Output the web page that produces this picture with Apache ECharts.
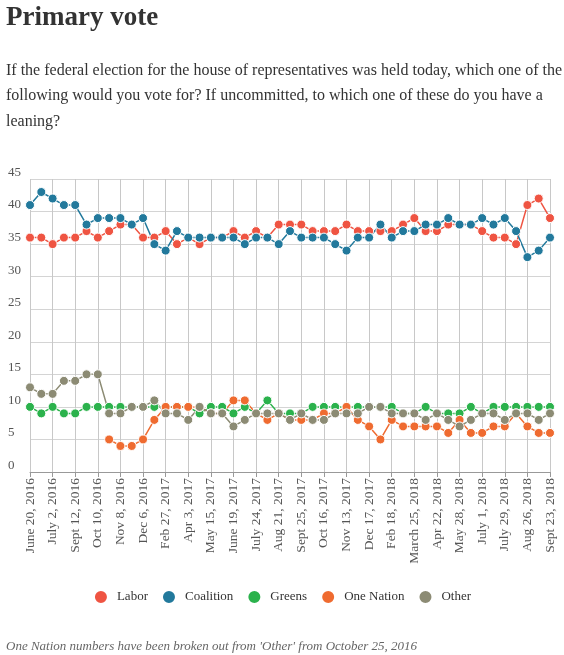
<!DOCTYPE html>
<html>
<head>
<meta charset="utf-8">
<script src="https://cdn.jsdelivr.net/npm/echarts@6/dist/echarts.min.js"></script>
<style>
  html, body { margin: 0; padding: 0; background: #fff; }
  #chart { width: 564px; height: 655px; }
</style>
</head>
<body>
<div id="chart"></div>
<script>
const categories = [
  'June 20, 2016', 'June 27, 2016', 'July 2, 2016', 'Aug 15, 2016', 'Sept 12, 2016', 'Sept 26, 2016',
  'Oct 10, 2016', 'Oct 25, 2016', 'Nov 8, 2016', 'Nov 21, 2016', 'Dec 6, 2016', 'Jan 30, 2017',
  'Feb 27, 2017', 'Mar 13, 2017', 'Apr 3, 2017', 'Apr 24, 2017', 'May 15, 2017', 'June 5, 2017',
  'June 19, 2017', 'July 10, 2017', 'July 24, 2017', 'Aug 7, 2017', 'Aug 21, 2017', 'Sept 11, 2017',
  'Sept 25, 2017', 'Oct 2, 2017', 'Oct 16, 2017', 'Oct 30, 2017', 'Nov 13, 2017', 'Nov 27, 2017',
  'Dec 17, 2017', 'Jan 21, 2018', 'Feb 18, 2018', 'Mar 4, 2018', 'March 25, 2018', 'Apr 8, 2018',
  'Apr 22, 2018', 'May 13, 2018', 'May 28, 2018', 'June 17, 2018', 'July 1, 2018', 'July 15, 2018',
  'July 29, 2018', 'Aug 12, 2018', 'Aug 26, 2018', 'Sept 9, 2018', 'Sept 23, 2018'
];

const labor = [36, 36, 35, 36, 36, 37, 36, 37, 38, 38, 36, 36, 37, 35, 36, 35, 36, 36, 37, 36, 37, 36, 38, 38,
  38, 37, 37, 37, 38, 37, 37, 37, 37, 38, 39, 37, 37, 38, 38, 38, 37, 36, 36, 35, 41, 42, 39];
const coalition = [41, 43, 42, 41, 41, 38, 39, 39, 39, 38, 39, 35, 34, 37, 36, 36, 36, 36, 36, 35, 36, 36, 35, 37,
  36, 36, 36, 35, 34, 36, 36, 38, 36, 37, 37, 38, 38, 39, 38, 38, 39, 38, 39, 37, 33, 34, 36];
const greens = [10, 9, 10, 9, 9, 10, 10, 10, 10, 10, 10, 10, 10, 10, 10, 9, 10, 10, 9, 10, 9, 11, 9, 9,
  9, 10, 10, 10, 10, 10, 10, 10, 10, 9, 9, 10, 9, 9, 9, 10, 9, 10, 10, 10, 10, 10, 10];
const oneNation = [null, null, null, null, null, null, null, 5, 4, 4, 5, 8, 10, 10, 10, 10, 9, 9, 11, 11, 9, 8, 9, 8,
  8, 8, 9, 9, 10, 8, 7, 5, 8, 7, 7, 7, 7, 6, 8, 6, 6, 7, 7, 9, 7, 6, 6];
const other = [13, 12, 12, 14, 14, 15, 15, 9, 9, 10, 10, 11, 9, 9, 8, 10, 9, 9, 7, 8, 9, 9, 9, 8,
  9, 8, 8, 9, 9, 9, 10, 10, 9, 9, 9, 8, 9, 8, 7, 8, 9, 9, 8, 9, 9, 8, 9];

const seriesNames = ['Labor', 'Coalition', 'Greens', 'One Nation', 'Other'];
const seriesColors = ['#ef5442', '#22799c', '#2bb24c', '#ef6b30', '#8c8b74'];
const seriesValues = [labor, coalition, greens, oneNation, other];

const serif = "'Liberation Serif', 'DejaVu Serif', serif";

const chart = echarts.init(document.getElementById('chart'), null, { renderer: 'canvas' });

const series = seriesNames.map((name, k) => ({
  name: name,
  type: 'line',
  data: seriesValues[k],
  symbol: 'circle',
  symbolSize: 9,
  showAllSymbol: true,
  connectNulls: false,
  lineStyle: { width: 1.5, color: seriesColors[k] },
  itemStyle: { color: seriesColors[k], borderColor: '#fff', borderWidth: 1 },
  emphasis: { disabled: true },
  animation: false
}));

chart.setOption({
  animation: false,
  color: seriesColors,
  title: [
    {
      text: 'Primary vote',
      left: 6,
      top: 5,
      padding: 0,
      textStyle: { fontFamily: serif, fontSize: 27, fontWeight: 'bold', color: '#333' }
    },
    {
      text: 'If the federal election for the house of representatives was held today, which one of the\nfollowing would you vote for? If uncommitted, to which one of these do you have a\nleaning?',
      left: 6,
      top: 58,
      padding: 0,
      textStyle: { fontFamily: serif, fontSize: 16, fontWeight: 'normal', color: '#333', lineHeight: 25.5 }
    },
    {
      text: "One Nation numbers have been broken out from 'Other' from October 25, 2016",
      left: 6,
      top: 640,
      padding: 0,
      textStyle: { fontFamily: serif, fontSize: 13, fontStyle: 'italic', fontWeight: 'normal', color: '#666' }
    }
  ],
  legend: {
    data: seriesNames,
    top: 584,
    left: 'center',
    icon: 'circle',
    itemWidth: 14,
    itemHeight: 14,
    itemGap: 13,
    selectedMode: false,
    textStyle: { fontFamily: serif, fontSize: 13, color: '#333', padding: [0, 0, 0, 4] }
  },
  grid: { left: 30, right: 14, top: 179, bottom: 183, containLabel: false },
  xAxis: {
    type: 'category',
    data: categories,
    boundaryGap: false,
    axisLine: { lineStyle: { color: '#999' } },
    axisTick: { interval: 1, length: 5, lineStyle: { color: '#999' } },
    axisLabel: { interval: 1, rotate: 90, fontFamily: serif, fontSize: 13.5, color: '#555', margin: 6 },
    splitLine: { show: true, interval: 1, lineStyle: { color: '#c8c8c8', width: 1 } }
  },
  yAxis: {
    type: 'value',
    min: 0,
    max: 45,
    interval: 5,
    axisLine: { show: false },
    axisTick: { show: false },
    axisLabel: { align: 'left', verticalAlign: 'bottom', margin: 22, fontFamily: serif, fontSize: 13, color: '#555' },
    splitLine: { show: true, lineStyle: { color: '#d4d4d4', width: 1 } }
  },
  series: series
});
</script>
</body>
</html>
